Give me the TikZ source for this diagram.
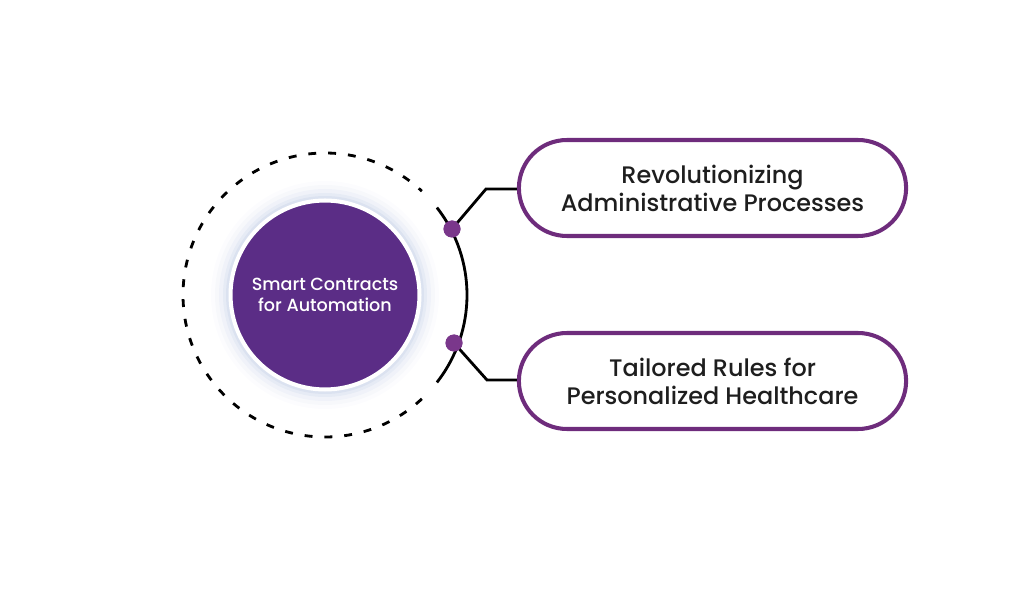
\documentclass[tikz,border=0pt]{standalone}
\usepackage{fontspec}
\setmainfont{Poppins Medium}
\usetikzlibrary{shapes.misc}

\definecolor{hubpurple}{HTML}{5B2D86}
\definecolor{rimpurple}{HTML}{6E2C7C}
\definecolor{dotpurple}{HTML}{7A378B}
\definecolor{glowblue}{HTML}{C8D2E8}
\definecolor{inkgray}{HTML}{1E1E1E}

\begin{document}
\begin{tikzpicture}[x=0.02cm,y=-0.02cm,semithick,align=center,
    hub/.style={circle,fill=hubpurple,draw=white,line width=2.3pt,minimum size=3.78cm,text=white,font=\fontsize{10}{12}\selectfont},
    pill/.style={rounded rectangle,draw=rimpurple,line width=2.3pt,minimum width=7.98cm,minimum height=1.92cm,text=inkgray,font=\fontsize{13.6}{15.9}\selectfont},
    joint/.style={circle,fill=dotpurple,inner sep=0pt,minimum size=0.34cm},
    link/.style={line width=1.6pt,black}]
        \useasboundingbox (0,0) rectangle (1024,597);

        \coordinate (ring) at (325,295);
        \foreach \r/\o in {114/0.06,110/0.1,106/0.15,102/0.24,99/0.36}
            \fill[glowblue,opacity=\o] (ring) circle[radius=\r];
        \node[hub] (hub) at (ring) {\raisebox{-3pt}{\shortstack{Smart Contracts\\[1pt]for Automation}}};

        \draw[link,dash pattern=on 4.5pt off 6.8pt] (ring) ++(47:142) arc[start angle=47,end angle=313,radius=142];
        \draw[link] (ring) ++(-38:142) arc[start angle=-38,end angle=38,radius=142];

        \node[pill] (admin) at (712.5,188) {Revolutionizing\\Administrative Processes};
        \node[pill] (care) at (712.5,381) {Tailored Rules for\\Personalized Healthcare};

        \node[joint] (j1) at (452,229) {};
        \node[joint] (j2) at (454,343) {};
        \coordinate (b1) at (486,189);
        \coordinate (b2) at (487,380);

        \draw[link] (j1.center) -- (b1) -- (b1 -| admin.west);
        \draw[link] (j2.center) -- (b2) -- (b2 -| care.west);
        \node[joint] at (j1) {};
        \node[joint] at (j2) {};
    \end{tikzpicture}
\end{document}
